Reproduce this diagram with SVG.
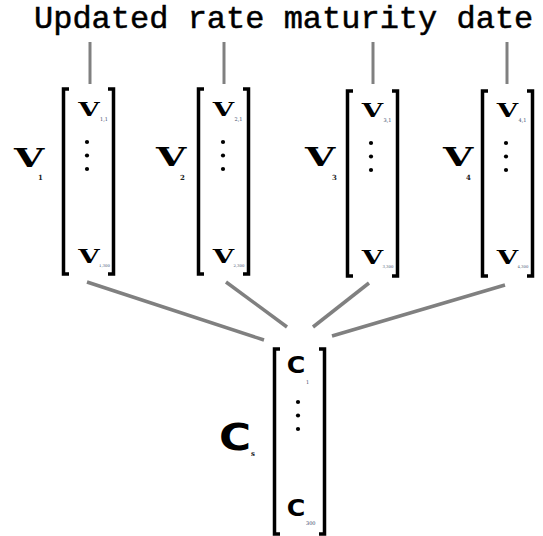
<svg xmlns="http://www.w3.org/2000/svg" width="543" height="536" viewBox="0 0 543 536">
  <style>
    .title { font-family: "Liberation Mono", "Courier New", monospace; font-size: 32px; fill: #000; stroke: #000; stroke-width: 0.5; }
    .link { stroke: #808080; stroke-width: 3.5; fill: none; stroke-linecap: butt; }
    .stem { stroke: #808080; stroke-width: 3; fill: none; }
    .bracket { stroke: #000; stroke-width: 3.5; fill: none; stroke-linejoin: miter; stroke-linecap: butt; }
    .bigv { font-family: "DejaVu Serif", serif; font-weight: bold; font-size: 26px; fill: #000; text-anchor: middle; }
    .elv { font-family: "DejaVu Serif", serif; font-weight: bold; font-size: 19px; fill: #000; text-anchor: middle; }
    .bigc { font-family: "DejaVu Sans", sans-serif; font-weight: bold; font-size: 38px; fill: #000; text-anchor: middle; }
    .elc { font-family: "DejaVu Sans", sans-serif; font-weight: bold; font-size: 23px; fill: #000; text-anchor: middle; }
    .sub { font-family: "DejaVu Serif", serif; font-weight: bold; font-size: 7px; fill: #222; }
    .tiny { font-family: "DejaVu Serif", serif; font-size: 5px; fill: #3a4a6a; }
    .tiny.long { font-size: 3.8px; }
    .dot { fill: #000; }
  </style>
  <defs>
    <!-- column-matrix brackets, 50 wide, 185 tall -->
    <g id="brackets">
      <path class="bracket" d="M 5.5 0 L 0 0 L 0 185 L 5.5 185"/>
      <path class="bracket" d="M 44.5 0 L 50 0 L 50 185 L 44.5 185"/>
    </g>
    <g id="vdots">
      <circle class="dot" cx="0" cy="0" r="2.1"/>
      <circle class="dot" cx="0" cy="13.5" r="2.1"/>
      <circle class="dot" cx="0" cy="27" r="2.1"/>
    </g>
  </defs>

  <text id="title" class="title" x="34" y="28">Updated rate maturity date</text>

  <g id="connectors">
    <line class="stem" x1="90" y1="42" x2="90" y2="84"/>
    <line class="stem" x1="224" y1="42" x2="224" y2="84"/>
    <line class="stem" x1="373" y1="42" x2="373" y2="84"/>
    <line class="stem" x1="507" y1="42" x2="507" y2="84"/>
    <line class="link" x1="87" y1="282" x2="264" y2="340"/>
    <line class="link" x1="226" y1="282" x2="287" y2="327"/>
    <line class="link" x1="369" y1="283" x2="313" y2="327"/>
    <line class="link" x1="505" y1="285" x2="332" y2="336"/>
  </g>

  <g id="v1">
    <g transform="translate(29,167) scale(1.5,1)"><text class="bigv" x="0" y="0">V</text></g>
    <text class="sub" x="38" y="180">1</text>
    <use href="#brackets" transform="translate(63.5,89)"/>
    <g transform="translate(89,116) scale(1.45,1)"><text class="elv" x="0" y="0">V</text></g>
    <text class="tiny" x="100" y="121">1,1</text>
    <use href="#vdots" transform="translate(87,142)"/>
    <g transform="translate(89,263) scale(1.45,1)"><text class="elv" x="0" y="0">V</text></g>
    <text class="tiny long" x="99" y="267">1,300</text>
  </g>

  <g id="v2">
    <g transform="translate(171,166) scale(1.5,1)"><text class="bigv" x="0" y="0">V</text></g>
    <text class="sub" x="180" y="180">2</text>
    <use href="#brackets" transform="translate(198.5,89)"/>
    <g transform="translate(223.5,116) scale(1.45,1)"><text class="elv" x="0" y="0">V</text></g>
    <text class="tiny" x="234.5" y="121">2,1</text>
    <use href="#vdots" transform="translate(223,142)"/>
    <g transform="translate(223.5,263) scale(1.45,1)"><text class="elv" x="0" y="0">V</text></g>
    <text class="tiny long" x="233.5" y="267">2,300</text>
  </g>

  <g id="v3">
    <g transform="translate(320,166) scale(1.5,1)"><text class="bigv" x="0" y="0">V</text></g>
    <text class="sub" x="332" y="180">3</text>
    <use href="#brackets" transform="translate(347.5,91)"/>
    <g transform="translate(372.5,117) scale(1.45,1)"><text class="elv" x="0" y="0">V</text></g>
    <text class="tiny" x="383.5" y="122">3,1</text>
    <use href="#vdots" transform="translate(371,143)"/>
    <g transform="translate(372.5,264) scale(1.45,1)"><text class="elv" x="0" y="0">V</text></g>
    <text class="tiny long" x="382.5" y="268">3,300</text>
  </g>

  <g id="v4">
    <g transform="translate(458,166) scale(1.5,1)"><text class="bigv" x="0" y="0">V</text></g>
    <text class="sub" x="466" y="180">4</text>
    <use href="#brackets" transform="translate(482.5,91)"/>
    <g transform="translate(507.5,117) scale(1.45,1)"><text class="elv" x="0" y="0">V</text></g>
    <text class="tiny" x="518.5" y="122">4,1</text>
    <use href="#vdots" transform="translate(506,143)"/>
    <g transform="translate(507.5,264) scale(1.45,1)"><text class="elv" x="0" y="0">V</text></g>
    <text class="tiny long" x="517.5" y="268">4,300</text>
  </g>

  <g id="cs">
    <g transform="translate(235,450) scale(1.15,1)"><text class="bigc" x="0" y="0">C</text></g>
    <text class="sub" x="251" y="456">s</text>
    <use href="#brackets" transform="translate(274.5,349)"/>
    <g transform="translate(296,373) scale(1.1,1)"><text class="elc" x="0" y="0">C</text></g>
    <text class="tiny" x="306" y="384">1</text>
    <use href="#vdots" transform="translate(298,402)"/>
    <g transform="translate(296,516) scale(1.1,1)"><text class="elc" x="0" y="0">C</text></g>
    <text class="tiny" x="306" y="525">300</text>
  </g>
</svg>
